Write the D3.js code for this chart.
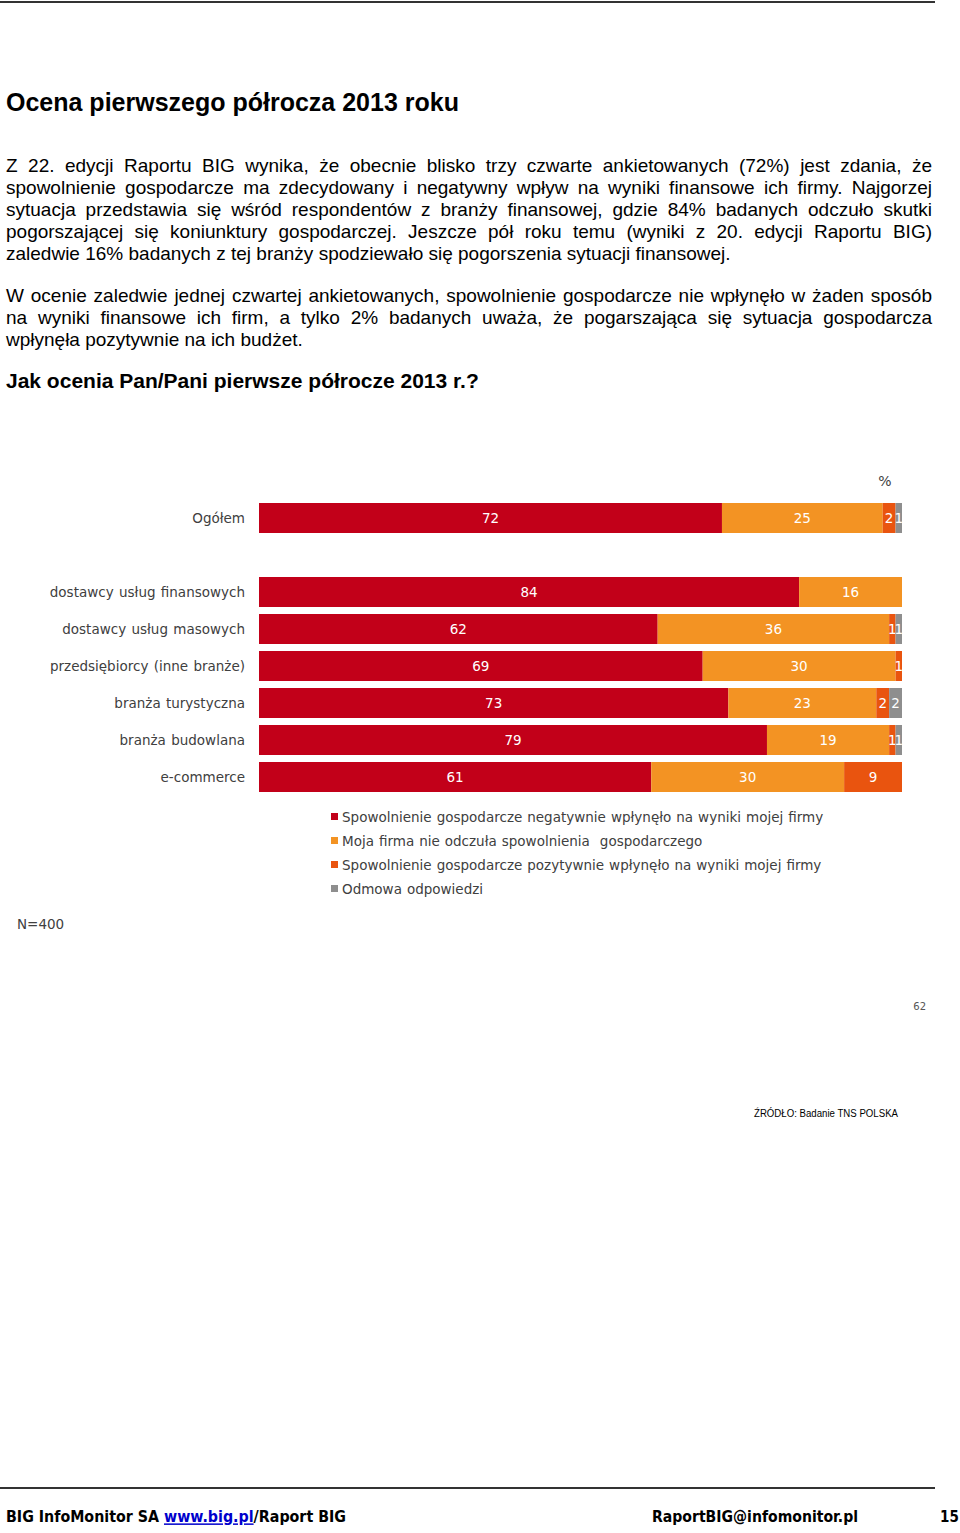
<!DOCTYPE html>
<html><head><meta charset="utf-8">
<script src="https://cdn.jsdelivr.net/npm/d3@7"></script>
<style>
html,body{margin:0;padding:0;background:#fff;}
body{width:960px;height:1533px;position:relative;overflow:hidden;}
.ln{position:absolute;left:6px;width:926px;font-family:"Liberation Sans",Arial,sans-serif;font-size:19px;line-height:22px;color:#000;text-align:justify;text-align-last:justify;white-space:nowrap;}
.ln.last{text-align-last:left;}
.h1{position:absolute;left:6px;font-family:"Liberation Sans",Arial,sans-serif;font-weight:bold;font-size:25px;color:#000;}
.h2{position:absolute;left:6px;font-family:"Liberation Sans",Arial,sans-serif;font-weight:bold;font-size:21px;color:#000;}
svg{position:absolute;left:0;top:0;}
</style></head>
<body>
<div class="h1" style="top:88px">Ocena pierwszego półrocza 2013 roku</div>
<div id="paras"></div>
<div class="h2" style="top:369px">Jak ocenia Pan/Pani pierwsze półrocze 2013 r.?</div>
<svg id="chart" width="960" height="1533"></svg>
<script>
// ---- data ----
const categories = ["Ogółem", "", "dostawcy usług finansowych", "dostawcy usług masowych", "przedsiębiorcy (inne branże)", "branża turystyczna", "branża budowlana", "e-commerce"];
const seriesNames = [
  "Spowolnienie gospodarcze negatywnie wpłynęło na wyniki mojej firmy",
  "Moja firma nie odczuła spowolnienia  gospodarczego",
  "Spowolnienie gospodarcze pozytywnie wpłynęło na wyniki mojej firmy",
  "Odmowa odpowiedzi"
];
const negatywnie = [72, null, 84, 62, 69, 73, 79, 61];
const nieOdczula = [25, null, 16, 36, 30, 23, 19, 30];
const pozytywnie = [2, null, 0, 1, 1, 2, 1, 9];
const odmowa     = [1, null, 0, 1, 0, 2, 1, 0];
const seriesColors = ["#C20019", "#F39323", "#E9540F", "#8E8E8E"];

const para1 = [
 "Z 22. edycji Raportu BIG wynika, że obecnie blisko trzy czwarte ankietowanych (72%) jest zdania, że",
 "spowolnienie gospodarcze ma zdecydowany i negatywny wpływ na wyniki finansowe ich firmy. Najgorzej",
 "sytuacja przedstawia się wśród respondentów z branży finansowej, gdzie 84% badanych odczuło skutki",
 "pogorszającej się koniunktury gospodarczej. Jeszcze pół roku temu (wyniki z 20. edycji Raportu BIG)",
 "zaledwie 16% badanych z tej branży spodziewało się pogorszenia sytuacji finansowej."
];
const para2 = [
 "W ocenie zaledwie jednej czwartej ankietowanych, spowolnienie gospodarcze nie wpłynęło w żaden sposób",
 "na wyniki finansowe ich firm, a tylko 2% badanych uważa, że pogarszająca się sytuacja gospodarcza",
 "wpłynęła pozytywnie na ich budżet."
];

// ---- paragraphs ----
const paras = d3.select("#paras");
function addPara(lines, top){
  lines.forEach((t,i)=>{
    paras.append("div").attr("class","ln"+(i===lines.length-1?" last":""))
      .style("top",(top+i*22)+"px").text(t);
  });
}
addPara(para1, 155);
addPara(para2, 285);

// ---- chart ----
const svg = d3.select("#chart");
const lblFont = "'DejaVu Sans', Verdana, sans-serif";

svg.append("line").attr("x1",0).attr("x2",935).attr("y1",2).attr("y2",2).attr("stroke","#333").attr("stroke-width",2);

const x = d3.scaleLinear().domain([0,100]).range([259,902]);
const y = d3.scaleBand().domain(categories).range([503,792]).paddingInner(7/37).paddingOuter(0);

const rows = categories.map((c,i)=>({cat:c, vals:[negatywnie[i], nieOdczula[i], pozytywnie[i], odmowa[i]]})).filter(r=>r.vals[0]!==null);

const g = svg.append("g");
rows.forEach(r=>{
  let acc = 0;
  r.vals.forEach((v,k)=>{
    if(!v) return;
    const x0 = x(acc), x1 = x(acc+v);
    g.append("rect").attr("x",x0).attr("y",y(r.cat)).attr("width",x1-x0).attr("height",y.bandwidth()).attr("fill",seriesColors[k]);
    g.append("text").attr("x",(x0+x1)/2).attr("y",y(r.cat)+y.bandwidth()/2).attr("dy","0.36em")
      .attr("text-anchor","middle").attr("fill","#fff").attr("font-family",lblFont).attr("font-size",13.5).text(v);
    acc += v;
  });
  g.append("text").attr("x",245).attr("y",y(r.cat)+y.bandwidth()/2).attr("dy","0.36em")
    .attr("text-anchor","end").attr("fill","#404040").attr("font-family",lblFont).attr("font-size",13.5)
    .attr("word-spacing",1).text(r.cat);
});

svg.append("text").attr("x",885).attr("y",481).attr("dy","0.36em").attr("text-anchor","middle")
  .attr("fill","#404040").attr("font-family",lblFont).attr("font-size",14).text("%");

// legend
const leg = svg.append("g");
seriesNames.forEach((n,i)=>{
  const cy = 817 + i*24;
  leg.append("rect").attr("x",331).attr("y",cy-4).attr("width",7).attr("height",7).attr("fill",seriesColors[i]);
  leg.append("text").attr("x",342).attr("y",cy).attr("dy","0.36em").attr("fill","#404040")
    .attr("font-family",lblFont).attr("font-size",13.5).attr("word-spacing",0.7).attr("xml:space","preserve").text(n);
});

svg.append("text").attr("x",17).attr("y",924).attr("dy","0.36em").attr("fill","#404040")
  .attr("font-family",lblFont).attr("font-size",13.5).text("N=400");
svg.append("text").attr("x",926).attr("y",1006).attr("dy","0.36em").attr("text-anchor","end").attr("fill","#555")
  .attr("font-family",lblFont).attr("font-size",10).text("62");
svg.append("text").attr("x",754).attr("y",1113).attr("dy","0.36em").attr("fill","#000")
  .attr("font-family","'Liberation Sans', Arial, sans-serif").attr("font-size",10)
  .attr("textLength",144).attr("lengthAdjust","spacingAndGlyphs").text("ŹRÓDŁO: Badanie TNS POLSKA");

// footer
svg.append("line").attr("x1",0).attr("x2",935).attr("y1",1488).attr("y2",1488).attr("stroke","#333").attr("stroke-width",2);
const ff = "'DejaVu Sans Condensed','DejaVu Sans',sans-serif";
const f1 = svg.append("text").attr("x",6).attr("y",1517).attr("dy","0.36em").attr("font-family",ff).attr("font-weight","bold").attr("font-size",15).attr("fill","#000")
  .attr("textLength",340).attr("lengthAdjust","spacingAndGlyphs").attr("xml:space","preserve");
f1.append("tspan").text("BIG InfoMonitor SA ");
f1.append("tspan").attr("fill","#0000CC").attr("text-decoration","underline").text("www.big.pl");
f1.append("tspan").text("/Raport BIG");
svg.append("text").attr("x",652).attr("y",1517).attr("dy","0.36em").attr("font-family",ff).attr("font-weight","bold").attr("font-size",15).attr("fill","#000")
  .attr("textLength",206).attr("lengthAdjust","spacingAndGlyphs").text("RaportBIG@infomonitor.pl");
svg.append("text").attr("x",940).attr("y",1517).attr("dy","0.36em").attr("font-family",ff).attr("font-weight","bold").attr("font-size",15).attr("fill","#000")
  .text("15");
</script>
</body></html>
